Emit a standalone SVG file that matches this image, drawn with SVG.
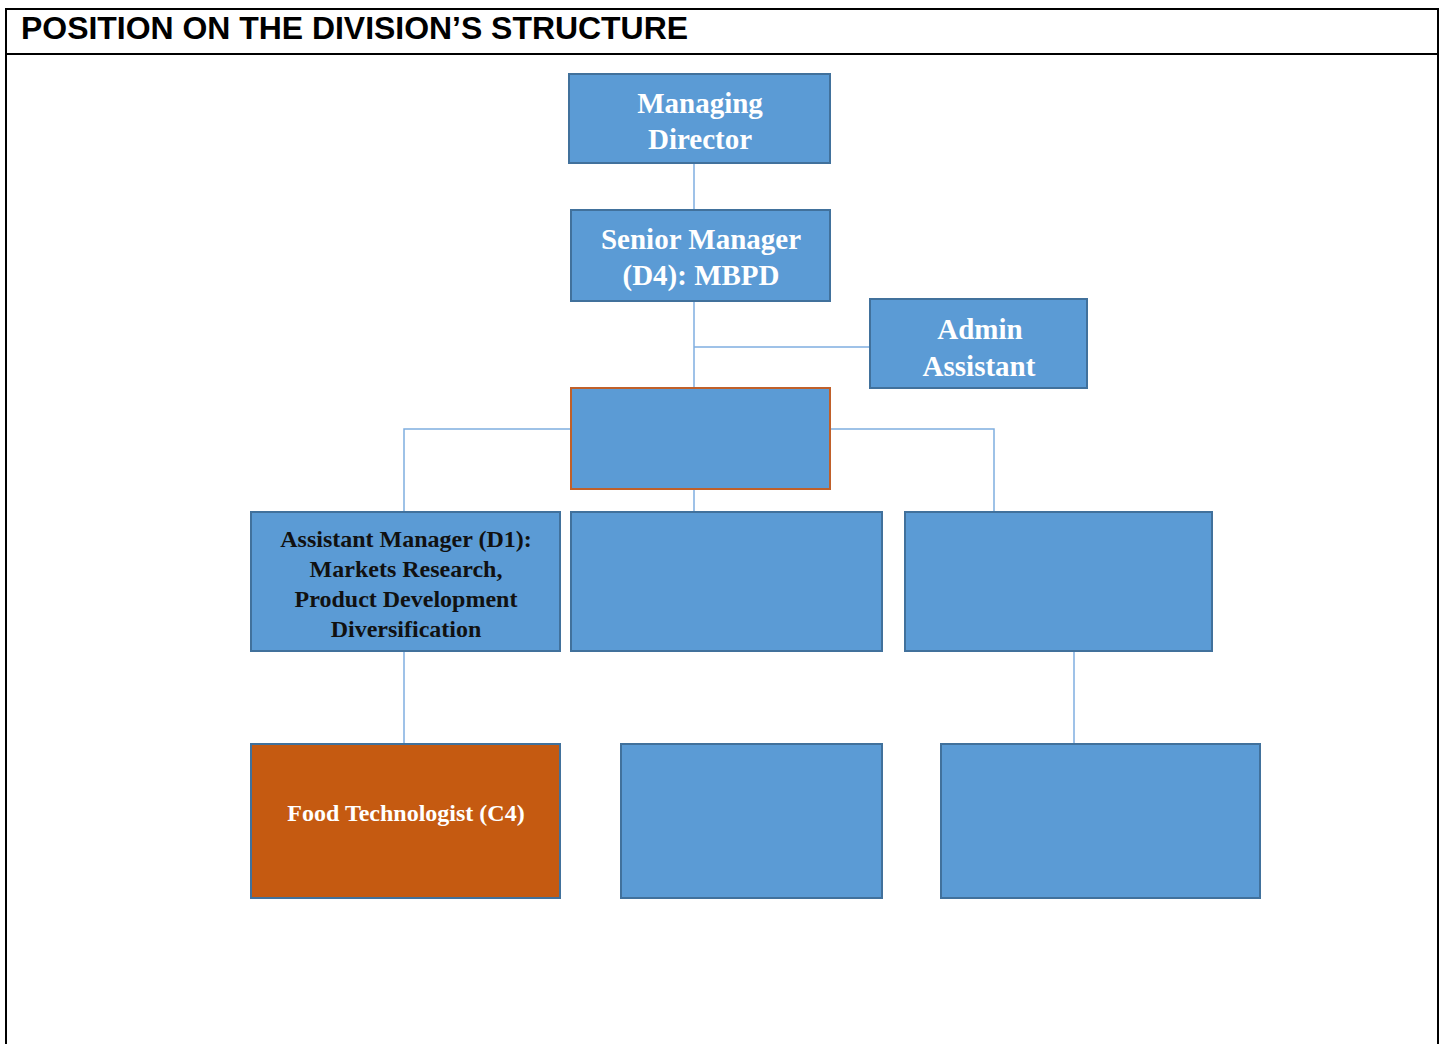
<svg xmlns="http://www.w3.org/2000/svg" width="1439" height="1044" viewBox="0 0 1439 1044">
<style>
.box{fill:#5B9BD5;stroke:#41719C;stroke-width:2}
.t{font-family:"Liberation Serif","Times New Roman",serif;font-weight:bold;text-anchor:middle}
.w{fill:#FFFFFF;font-size:29px}
.k{fill:#111111;font-size:24px}
.c{stroke:#7FAEE0;stroke-width:1.5;fill:none}
</style>
<rect width="1439" height="1044" fill="#FFFFFF"/>
<g id="frame" fill="none" stroke="#000" stroke-width="2">
<path d="M6 1044 V9 H1438 V1044"/>
<line x1="6" y1="54" x2="1438" y2="54"/>
</g>
<text x="21" y="39" font-family="'Liberation Sans',Arial,sans-serif" font-weight="bold" font-size="31" textLength="667" lengthAdjust="spacingAndGlyphs" fill="#000">POSITION ON THE DIVISION’S STRUCTURE</text>
<g id="connectors">
<line class="c" x1="694" y1="163" x2="694" y2="210"/>
<line class="c" x1="694" y1="301" x2="694" y2="388"/>
<line class="c" x1="694" y1="347" x2="870" y2="347"/>
<polyline class="c" points="571,429 404,429 404,512"/>
<polyline class="c" points="830,429 994,429 994,512"/>
<line class="c" x1="694" y1="489" x2="694" y2="512"/>
<line class="c" x1="404" y1="651" x2="404" y2="744"/>
<line class="c" x1="1074" y1="651" x2="1074" y2="744"/>
</g>
<g id="md"><rect class="box" x="569" y="74" width="261" height="89"/>
<text class="t w" x="700" y="113">Managing</text><text class="t w" x="700" y="149">Director</text></g>
<g id="sm"><rect class="box" x="571" y="210" width="259" height="91"/>
<text class="t w" x="701" y="249">Senior Manager</text><text class="t w" x="701" y="285">(D4): MBPD</text></g>
<g id="admin"><rect class="box" x="870" y="299" width="217" height="89"/>
<text class="t w" x="980" y="339">Admin</text><text class="t w" x="979" y="376">Assistant</text></g>
<g id="mid"><rect x="571" y="388" width="259" height="101" fill="#5B9BD5" stroke="#C0602A" stroke-width="2"/></g>
<g id="am"><rect class="box" x="251" y="512" width="309" height="139"/>
<text class="t k" x="406" y="547">Assistant Manager (D1):</text>
<text class="t k" x="406" y="577">Markets Research,</text>
<text class="t k" x="406" y="607">Product Development</text>
<text class="t k" x="406" y="637">Diversification</text></g>
<g id="r3b"><rect class="box" x="571" y="512" width="311" height="139"/></g>
<g id="r3c"><rect class="box" x="905" y="512" width="307" height="139"/></g>
<g id="food"><rect x="251" y="744" width="309" height="154" fill="#C55A11" stroke="#41719C" stroke-width="2"/>
<text class="t" x="406" y="821" fill="#FFFFFF" font-size="24">Food Technologist (C4)</text></g>
<g id="r4b"><rect class="box" x="621" y="744" width="261" height="154"/></g>
<g id="r4c"><rect class="box" x="941" y="744" width="319" height="154"/></g>
</svg>
